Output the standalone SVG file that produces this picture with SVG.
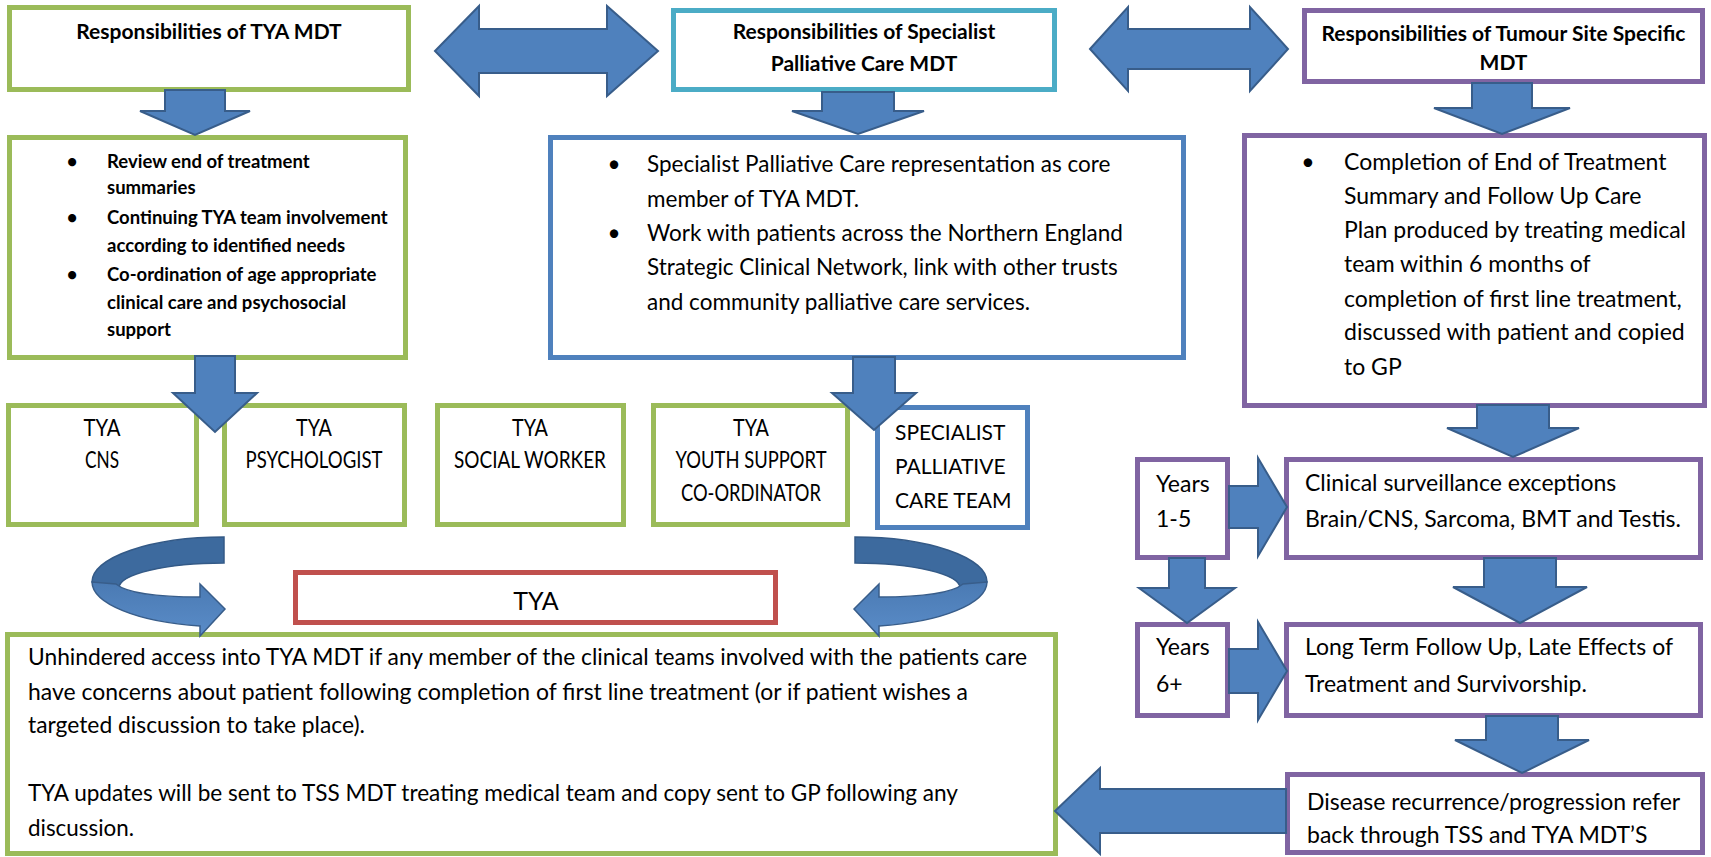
<svg xmlns="http://www.w3.org/2000/svg" width="1711" height="857" viewBox="0 0 1711 857">
<defs>
<style>
.box{fill:#fff;stroke-width:5}
.g{stroke:#9BBB59}.c{stroke:#4BACC6}.p{stroke:#8064A2}.b{stroke:#4F81BD}.r{stroke:#C0504D}
.arr{fill:#4F81BD;stroke:#385D8A;stroke-width:2;stroke-linejoin:miter}
.back{fill:#3D6A9E;stroke:#345A87;stroke-width:1.5}
.front{fill:url(#fg);stroke:#385D8A;stroke-width:1.5}
text{font-family:Lato,"Liberation Sans",sans-serif;fill:#000}
.t{font-weight:bold;font-size:21px;text-anchor:middle}
.bb{font-weight:bold;font-size:18.5px}
.m{font-size:22.5px}
.d{font-size:23px}
.k{font-size:23px;text-anchor:middle}
.s{font-size:21px}
.e{font-size:23px}
</style>
<linearGradient id="fg" x1="0" y1="0" x2="0" y2="1">
<stop offset="0" stop-color="#4A7AB3"/>
<stop offset="1" stop-color="#5A8CC8"/>
</linearGradient>
</defs>
<rect width="1711" height="857" fill="#fff"/>

<g id="tya-mdt"><rect class="box g" x="9.5" y="7.5" width="399" height="82"/>
<text class="t" x="209" y="39">Responsibilities of TYA MDT</text></g>

<g id="spc-mdt"><rect class="box c" x="673.5" y="10.5" width="381" height="79"/>
<text class="t" x="864" y="39">Responsibilities of Specialist</text>
<text class="t" x="864" y="71">Palliative Care MDT</text></g>

<g id="tss-mdt"><rect class="box p" x="1304.5" y="10.5" width="398" height="71"/>
<text class="t" x="1503.5" y="41">Responsibilities of Tumour Site Specific</text>
<text class="t" x="1503.5" y="70">MDT</text></g>

<g id="tya-resp"><rect class="box g" x="9.5" y="137.5" width="396" height="220"/>
<g class="bb">
<text x="72" y="168" text-anchor="middle">•</text><text x="107" y="168">Review end of treatment</text>
<text x="107" y="194">summaries</text>
<text x="72" y="224" text-anchor="middle">•</text><text x="107" y="224">Continuing TYA team involvement</text>
<text x="107" y="252">according to identified needs</text>
<text x="72" y="281" text-anchor="middle">•</text><text x="107" y="281">Co-ordination of age appropriate</text>
<text x="107" y="309">clinical care and psychosocial</text>
<text x="107" y="336">support</text></g></g>

<g id="spc-resp"><rect class="box b" x="550.5" y="137.5" width="633" height="220"/>
<g class="m">
<text x="614" y="172" text-anchor="middle">•</text><text x="647" y="172">Specialist Palliative Care representation as core</text>
<text x="647" y="207">member of TYA MDT.</text>
<text x="614" y="241" text-anchor="middle">•</text><text x="647" y="241">Work with patients across the Northern England</text>
<text x="647" y="275">Strategic Clinical Network, link with other trusts</text>
<text x="647" y="310">and community palliative care services.</text></g></g>

<g id="tss-resp"><rect class="box p" x="1244.5" y="135.5" width="460" height="270"/>
<g class="d">
<text x="1308" y="170" text-anchor="middle">•</text><text x="1344" y="170">Completion of End of Treatment</text>
<text x="1344" y="204">Summary and Follow Up Care</text>
<text x="1344" y="238">Plan produced by treating medical</text>
<text x="1344" y="272">team within 6 months of</text>
<text x="1344" y="307">completion of first line treatment,</text>
<text x="1344" y="340">discussed with patient and copied</text>
<text x="1344" y="375">to GP</text></g></g>

<g id="tya-cns"><rect class="box g" x="8.5" y="405.5" width="188" height="119"/>
<text class="k" x="102" y="436" textLength="37" lengthAdjust="spacingAndGlyphs">TYA</text>
<text class="k" x="102" y="468" textLength="34" lengthAdjust="spacingAndGlyphs">CNS</text></g>

<g id="tya-psychologist"><rect class="box g" x="224.5" y="405.5" width="180" height="119"/>
<text class="k" x="314" y="436" textLength="36" lengthAdjust="spacingAndGlyphs">TYA</text>
<text class="k" x="314" y="468" textLength="137" lengthAdjust="spacingAndGlyphs">PSYCHOLOGIST</text></g>

<g id="tya-social-worker"><rect class="box g" x="437.5" y="405.5" width="186" height="119"/>
<text class="k" x="530" y="436" textLength="36" lengthAdjust="spacingAndGlyphs">TYA</text>
<text class="k" x="530" y="468" textLength="152" lengthAdjust="spacingAndGlyphs">SOCIAL WORKER</text></g>

<g id="tya-youth-support"><rect class="box g" x="653.5" y="405.5" width="194" height="119"/>
<text class="k" x="751" y="436" textLength="36" lengthAdjust="spacingAndGlyphs">TYA</text>
<text class="k" x="751" y="468" textLength="151" lengthAdjust="spacingAndGlyphs">YOUTH SUPPORT</text>
<text class="k" x="751" y="501" textLength="140" lengthAdjust="spacingAndGlyphs">CO-ORDINATOR</text></g>

<g id="spc-team"><rect class="box b" x="877.5" y="407.5" width="150" height="120"/>
<g class="s"><text x="895" y="440">SPECIALIST</text>
<text x="895" y="474">PALLIATIVE</text>
<text x="895" y="508">CARE TEAM</text></g></g>

<g id="tya"><rect class="box r" x="295.5" y="572.5" width="480" height="50"/>
<text x="536" y="610" font-size="25" text-anchor="middle">TYA</text></g>

<g id="access"><rect class="box g" x="7.5" y="634.5" width="1048" height="219"/>
<g class="e">
<text x="28" y="665" textLength="999" lengthAdjust="spacingAndGlyphs">Unhindered access into TYA MDT if any member of the clinical teams involved with the patients care</text>
<text x="28" y="700" textLength="940" lengthAdjust="spacingAndGlyphs">have concerns about patient following completion of first line treatment (or if patient wishes a</text>
<text x="28" y="733" textLength="337" lengthAdjust="spacingAndGlyphs">targeted discussion to take place).</text>
<text x="28" y="801" textLength="930" lengthAdjust="spacingAndGlyphs">TYA updates will be sent to TSS MDT treating medical team and copy sent to GP following any</text>
<text x="28" y="836" textLength="106" lengthAdjust="spacingAndGlyphs">discussion.</text></g></g>

<g id="years-1-5"><rect class="box p" x="1137.5" y="459.5" width="90" height="98"/>
<g class="d"><text x="1156" y="492">Years</text><text x="1156" y="527">1-5</text></g></g>

<g id="surveillance"><rect class="box p" x="1286.5" y="459.5" width="414" height="98"/>
<g class="d"><text x="1305" y="491">Clinical surveillance exceptions</text>
<text x="1305" y="527">Brain/CNS, Sarcoma, BMT and Testis.</text></g></g>

<g id="years-6"><rect class="box p" x="1137.5" y="624.5" width="90" height="91"/>
<g class="d"><text x="1156" y="655">Years</text><text x="1156" y="692">6+</text></g></g>

<g id="long-term"><rect class="box p" x="1286.5" y="624.5" width="414" height="91"/>
<g class="d"><text x="1305" y="655">Long Term Follow Up, Late Effects of</text>
<text x="1305" y="692">Treatment and Survivorship.</text></g></g>

<g id="recurrence"><rect class="box p" x="1287.5" y="774.5" width="415" height="78"/>
<g class="d"><text x="1307" y="810">Disease recurrence/progression refer</text>
<text x="1307" y="843">back through TSS and TYA MDT’S</text></g></g>

<g id="connectors">
<path class="arr" d="M435,51 L479,6 L479,29 L607,29 L607,6 L658,51 L607,96 L607,73 L479,73 L479,96 Z"/>
<path class="arr" d="M1090,49 L1128,7 L1128,29 L1250,29 L1250,7 L1288,49 L1250,91 L1250,69 L1128,69 L1128,91 Z"/>
<path class="arr" d="M165,90 L225,90 L225,111 L250,111 L195,135 L140,111 L165,111 Z"/>
<path class="arr" d="M822,92 L894,92 L894,111 L924,111 L858,134 L792,111 L822,111 Z"/>
<path class="arr" d="M1472,83 L1532,83 L1532,108 L1570,108 L1502,134 L1434,108 L1472,108 Z"/>
<path class="arr" d="M195,356 L235,356 L235,393 L257,393 L215,432 L173,393 L195,393 Z"/>
<path class="arr" d="M853,357 L895,357 L895,393 L916,393 L874,430 L832,393 L853,393 Z"/>
<path class="arr" d="M1477,405 L1549,405 L1549,428 L1579,428 L1513,457 L1447,428 L1477,428 Z"/>
<path class="arr" d="M1169,558 L1205,558 L1205,588 L1235,588 L1187,623 L1139,588 L1169,588 Z"/>
<path class="arr" d="M1484,558 L1556,558 L1556,587 L1587,587 L1520,623 L1453,587 L1484,587 Z"/>
<path class="arr" d="M1486,716 L1558,716 L1558,740 L1589,740 L1522,773 L1455,740 L1486,740 Z"/>
<path class="arr" d="M1229,486 L1258,486 L1258,458 L1287,507 L1258,556 L1258,528 L1229,528 Z"/>
<path class="arr" d="M1229,649 L1258,649 L1258,622 L1287,671 L1258,720 L1258,693 L1229,693 Z"/>
<path class="arr" d="M1286,789 L1100,789 L1100,768 L1055,811 L1100,854 L1100,833 L1286,833 Z"/>
<g id="curve-left">
<path class="back" d="M224,537 A132,45 0 0 0 92,582 L119,588 A105,25 0 0 1 224,563 Z"/>
<path class="front" d="M92,582 A132,45 0 0 0 200,626 L200,636 L225,609 L200,584 L200,597 C160,597 128,594 116,584 Z"/>
</g>
<g id="curve-right" transform="matrix(-1,0,0,1,1079,0)">
<path class="back" d="M224,537 A132,45 0 0 0 92,582 L119,588 A105,25 0 0 1 224,563 Z"/>
<path class="front" d="M92,582 A132,45 0 0 0 200,626 L200,636 L225,609 L200,584 L200,597 C160,597 128,594 116,584 Z"/>
</g>
</g>
</svg>
